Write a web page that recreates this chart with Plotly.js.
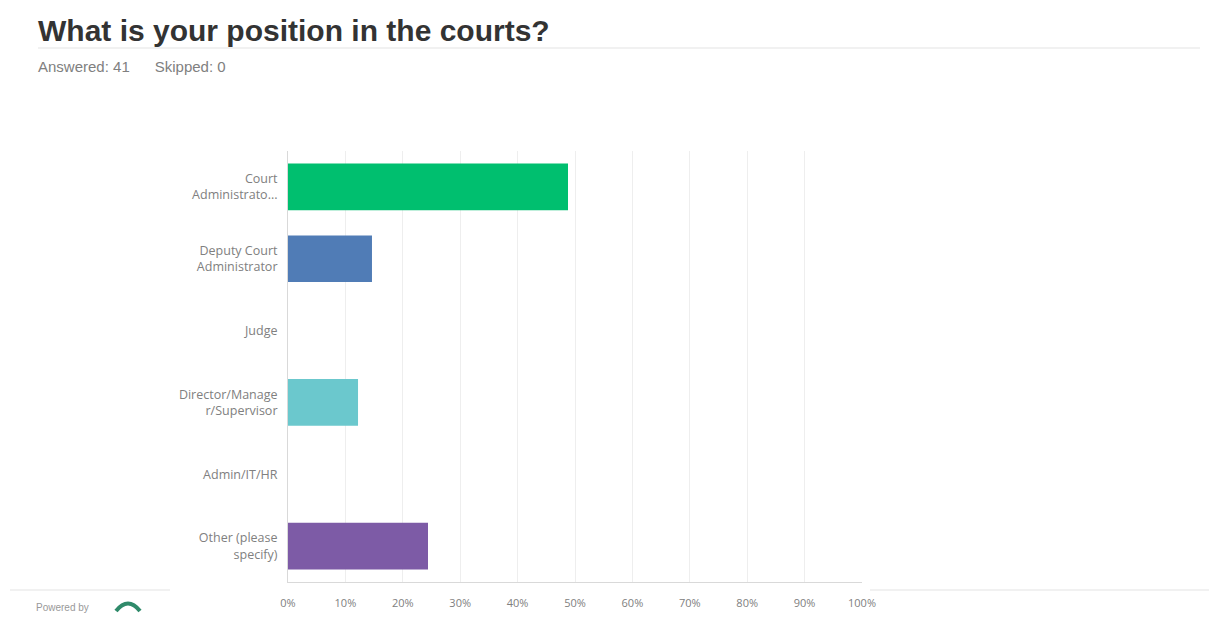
<!DOCTYPE html>
<html>
<head>
<meta charset="utf-8">
<script src="https://cdn.plot.ly/plotly-3.0.1.min.js"></script>
<style>
html,body{margin:0;padding:0;background:#fff;}
#chart{width:1209px;height:623px;}
</style>
</head>
<body>
<div id="chart"></div>
<script>
var categories = ["Court<br>Administrato...", "Deputy Court<br>Administrator", "Judge", "Director/Manage<br>r/Supervisor", "Admin/IT/HR", "Other (please<br>specify)"];
var percentages = [48.78, 14.63, 0, 12.20, 0, 24.39];
var barColors = ["#00bf6f", "#507cb6", "#f9be00", "#6bc8cd", "#ff8b4f", "#7d5ba6"];
var tickValues = [0, 10, 20, 30, 40, 50, 60, 70, 80, 90, 100];
var tickLabels = ["0%", "10%", "20%", "30%", "40%", "50%", "60%", "70%", "80%", "90%", "100%"];
var titleText = "What is your position in the courts?";
var subtitleText = "Answered: 41&nbsp;&nbsp;&nbsp;&nbsp;&nbsp;&nbsp;Skipped: 0";

var W = 1209, H = 623;
var L = 288, R = 347, T = 151, B = 41;
var PW = W - L - R, PH = H - T - B;
function px(x) { return (x - L) / PW; }
function py(y) { return (H - B - y) / PH; }

var trace = {
  type: "bar",
  orientation: "h",
  y: categories,
  x: percentages,
  marker: {color: barColors},
  width: 0.65,
  hoverinfo: "x+y"
};

var layout = {
  width: W,
  height: H,
  paper_bgcolor: "#ffffff",
  plot_bgcolor: "#ffffff",
  margin: {l: L, r: R, t: T, b: B},
  showlegend: false,
  font: {family: "Open Sans, Liberation Sans, sans-serif", color: "#666"},
  xaxis: {
    range: [0, 100],
    tickvals: tickValues,
    ticktext: tickLabels,
    showgrid: true,
    gridcolor: "#eeeeee",
    gridwidth: 1,
    zeroline: false,
    showline: true,
    linecolor: "#d9d9d9",
    linewidth: 1,
    ticks: "outside",
    ticklen: 11,
    tickcolor: "rgba(0,0,0,0)",
    tickfont: {size: 11, color: "#808080"},
    fixedrange: true
  },
  yaxis: {
    autorange: "reversed",
    showgrid: false,
    zeroline: false,
    showline: true,
    linecolor: "#d9d9d9",
    linewidth: 1,
    ticks: "outside",
    ticklen: 7,
    tickcolor: "rgba(0,0,0,0)",
    tickfont: {size: 12.5, color: "#808080"},
    fixedrange: true
  },
  title: {
    text: "<b>" + titleText + "</b>",
    x: 38 / W, xref: "container", xanchor: "left",
    y: 1 - 30 / H, yref: "container", yanchor: "middle",
    font: {family: "Liberation Sans, Arial, sans-serif", size: 30, color: "#333333"}
  },
  annotations: [
    {
      text: subtitleText,
      xref: "paper", yref: "paper",
      x: px(36), y: py(67),
      xanchor: "left", yanchor: "middle",
      showarrow: false,
      font: {family: "Liberation Sans, Arial, sans-serif", size: 15, color: "#808080"}
    },
    {
      text: "Powered by",
      xref: "paper", yref: "paper",
      x: px(34), y: py(607),
      xanchor: "left", yanchor: "middle",
      showarrow: false,
      font: {family: "Liberation Sans, Arial, sans-serif", size: 10, color: "#999"}
    }
  ],
  shapes: [
    {type: "line", xref: "paper", yref: "paper", x0: px(38), x1: px(1200), y0: py(48), y1: py(48), line: {color: "#e3e3e3", width: 1}},
    {type: "line", xref: "paper", yref: "paper", x0: px(10), x1: px(170), y0: py(590), y1: py(590), line: {color: "#e3e3e3", width: 1}},
    {type: "line", xref: "paper", yref: "paper", x0: px(870), x1: px(1209), y0: py(590), y1: py(590), line: {color: "#e3e3e3", width: 1}},
    {type: "path", xref: "paper", yref: "paper",
     path: "M " + px(116) + " " + py(611) + " Q " + px(128) + " " + py(596) + " " + px(140) + " " + py(611),
     line: {color: "#2f8a6a", width: 4}}
  ]
};

Plotly.newPlot("chart", [trace], layout, {displayModeBar: false, staticPlot: true});
</script>
</body>
</html>
